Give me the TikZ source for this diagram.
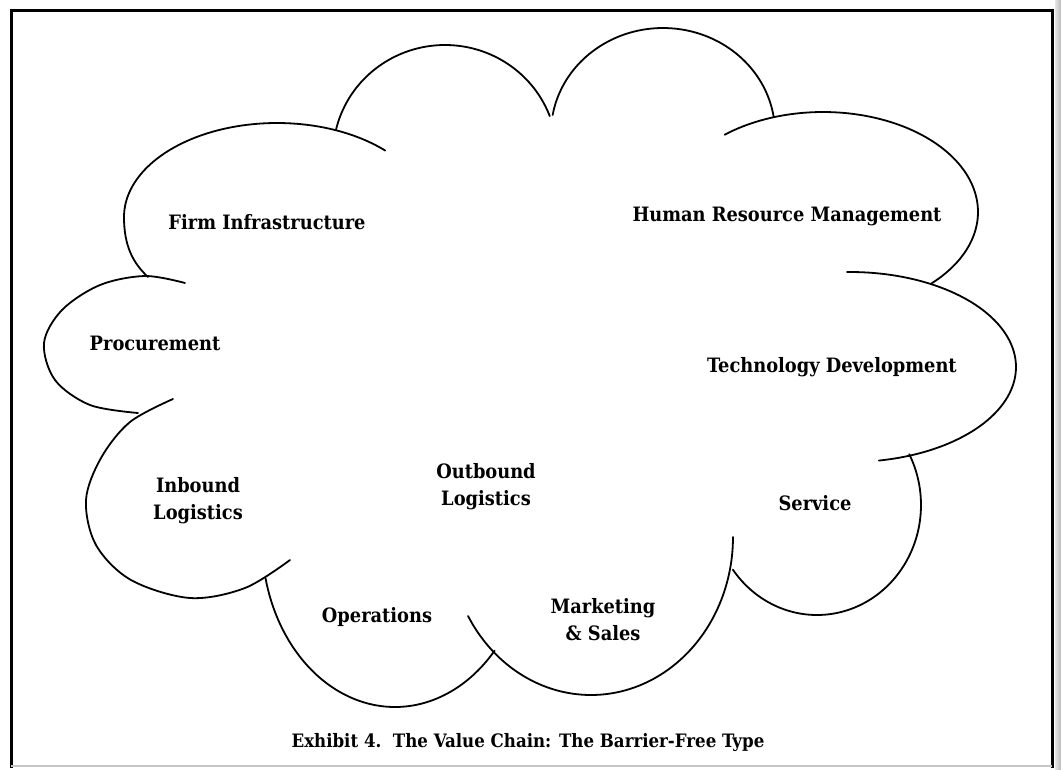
\documentclass[tikz,border=0pt]{standalone}
\usepackage{fontspec}
\newfontfamily\slabfont{DejaVu Serif Condensed}
\begin{document}
\begin{tikzpicture}[x=1pt,y=-1pt,
  lobe/.style={line width=1.8pt, line join=round, line cap=round},
  frameline/.style={line width=3pt},
  lbl/.style={font=\slabfont\bfseries\fontsize{19.8}{27}\selectfont, align=center, inner sep=0pt},
  caption/.style={font=\slabfont\bfseries\fontsize{18.5}{22}\selectfont, inner sep=0pt},
]
\useasboundingbox (0,0) rectangle (1061,769);

% page edge shading and frame
\shade[left color=gray!20, right color=gray!55] (1055,0) rectangle (1061,769);
\draw[frameline] (11,768) -- (11,10) -- (1052,10) -- (1052,768);
\draw[line width=1.5pt, gray!45] (11,766) -- (1052,766);

% cloud outline, one lobe per activity
% Firm Infrastructure
\draw[lobe] (148,277) .. controls (133,263) and (124,246) .. (124,217)
  -- plot[domain=180:315, samples=80, variable=\t] ({277+153*cos(\t)},{217+94*sin(\t)});
% top lobes
\draw[lobe] plot[domain=193.6:339.3, samples=80, variable=\t] ({445+112*cos(\t)},{155+110*sin(\t)});
\draw[lobe] plot[domain=189.9:351.3, samples=80, variable=\t] ({663+112*cos(\t)},{133+105*sin(\t)});
% Human Resource Management
\draw[lobe] plot[domain=230.6:405.8, samples=90, variable=\t] ({823+155*cos(\t)},{212+100*sin(\t)});
% Technology Development
\draw[lobe] plot[domain=269:440, samples=90, variable=\t] ({850+166*cos(\t)},{367+95*sin(\t)});
% Service
\draw[lobe] plot[domain=-27.5:144, samples=90, variable=\t] ({817+104*cos(\t)},{505+110*sin(\t)});
% Marketing & Sales
\draw[lobe] plot[domain=0:150, samples=90, variable=\t] ({591+142*cos(\t)},{537+158*sin(\t)});
% Operations
\draw[lobe] plot[domain=41.5:166.8, samples=90, variable=\t] ({395+133*cos(\t)},{540+167*sin(\t)});
% Inbound Logistics
\draw[lobe] plot[smooth, tension=0.55] coordinates {(173,399) (130,422) (101,458) (86,500) (96,545) (131,580) (190,598) (245,588) (290,560)};
% Procurement
\draw[lobe] plot[smooth, tension=0.55] coordinates {(185,283) (145,276) (100,285) (62,310) (44,343) (55,380) (90,405) (138,413)};

% activity labels
\node[lbl] (firm) at (267,222) {Firm Infrastructure};
\node[lbl] (hrm) at (787,216) {Human Resource Management};
\node[lbl] (proc) at (155,343) {Procurement};
\node[lbl] (tech) at (832,367) {Technology Development};
\node[lbl] (inb) at (198,501) {Inbound\\Logistics};
\node[lbl] (outb) at (486,487) {Outbound\\Logistics};
\node[lbl] (serv) at (815,503) {Service};
\node[lbl] (ops) at (377,617) {Operations};
\node[lbl] (mkt) at (603,620) {Marketing\\\& Sales};

% caption
\node[caption] (cap) at (528,743) {Exhibit 4.\ \ The Value Chain: The Barrier-Free Type};
\end{tikzpicture}
\end{document}
